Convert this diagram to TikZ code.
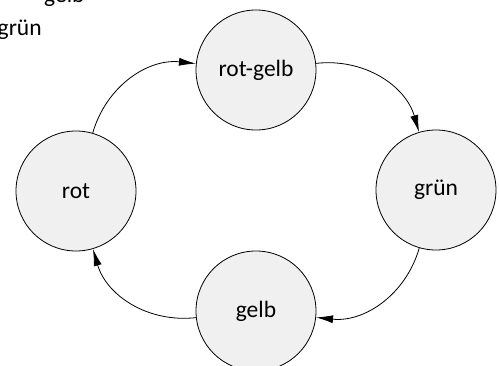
\documentclass[tikz,border=0pt]{standalone}
\usepackage{fontspec}
\setmainfont{Carlito}
\usetikzlibrary{arrows.meta}
\definecolor{stategray}{gray}{0.94}
\begin{document}
\begin{tikzpicture}[x=1pt,y=1pt,
  state/.style={circle,draw=black,fill=stategray,line width=0.8pt,minimum size=120pt,inner sep=0pt,font=\fontsize{23.5}{28}\selectfont},
  trans/.style={-{Latex[length=17pt,width=8pt]},line width=0.8pt,bend left=40},
  lbl/.style={font=\fontsize{23.5}{28}\selectfont,inner sep=0pt,anchor=base west}]
\useasboundingbox (0,0) rectangle (499,365);
\clip (0,0) rectangle (499,365);
\node[lbl] (tgelb) at (44,362) {gelb};
\node[lbl] (tgruen) at (-2.5,329.5) {grün};
\node[state] (rot) at (76,174) {rot};
\node[state] (rotgelb) at (256,295) {rot-gelb};
\node[state] (gruen) at (436,175) {grün};
\node[state] (gelb) at (256,54) {gelb};
\draw[trans] (rot) to (rotgelb);
\draw[trans] (rotgelb) to (gruen);
\draw[trans] (gruen) to (gelb);
\draw[trans] (gelb) to (rot);
\end{tikzpicture}
\end{document}
